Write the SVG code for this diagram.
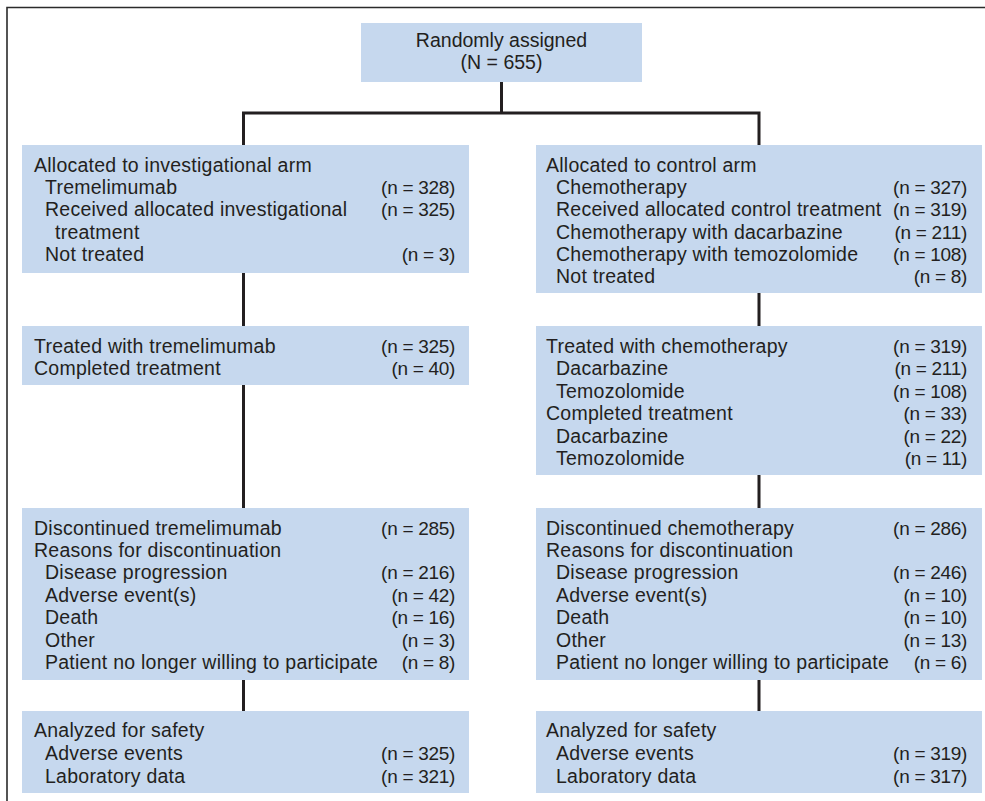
<svg xmlns="http://www.w3.org/2000/svg" width="985" height="801" viewBox="0 0 985 801">
<style>
.bg{fill:#ffffff}
.box{fill:#c6d8ee}
.frame{fill:none;stroke:#2b2b2b;stroke-width:1.6}
.ln{fill:none;stroke:#231f20;stroke-width:3}
text{font-family:"Liberation Sans",Arial,sans-serif;font-size:19.5px;fill:#231f20;letter-spacing:0.25px}
.n{text-anchor:end;font-size:19px;letter-spacing:-0.3px}
.c{text-anchor:middle;letter-spacing:0}
</style>
<rect class="bg" x="0" y="0" width="985" height="801"/>
<path class="frame" d="M7,801 V7.5 H985"/>
<g id="connectors">
<path class="ln" d="M501.5,81 V113 M243.5,113 H759.5 M243.5,111.5 V711 M759,111.5 V711"/>
</g>
<g id="randomized">
<rect class="box" x="361" y="23" width="281" height="59"/>
<text class="c" x="501.5" y="47">Randomly assigned</text>
<text class="c" x="501.5" y="69">(N = 655)</text>
</g>
<g id="alloc-invest">
<rect class="box" x="22" y="145" width="447" height="128"/>
<text x="34" y="172">Allocated to investigational arm</text>
<text x="45" y="194">Tremelimumab</text><text class="n" x="455" y="194">(n = 328)</text>
<text x="45" y="216">Received allocated investigational</text><text class="n" x="455" y="216">(n = 325)</text>
<text x="55" y="239">treatment</text>
<text x="45" y="261">Not treated</text><text class="n" x="455" y="261">(n = 3)</text>
</g>
<g id="alloc-control">
<rect class="box" x="536" y="145" width="446" height="148"/>
<text x="546" y="172">Allocated to control arm</text>
<text x="556" y="194">Chemotherapy</text><text class="n" x="967" y="194">(n = 327)</text>
<text x="556" y="216">Received allocated control treatment</text><text class="n" x="967" y="216">(n = 319)</text>
<text x="556" y="239">Chemotherapy with dacarbazine</text><text class="n" x="967" y="239">(n = 211)</text>
<text x="556" y="261">Chemotherapy with temozolomide</text><text class="n" x="967" y="261">(n = 108)</text>
<text x="556" y="283">Not treated</text><text class="n" x="967" y="283">(n = 8)</text>
</g>
<g id="treated-invest">
<rect class="box" x="22" y="326" width="447" height="59"/>
<text x="34" y="353">Treated with tremelimumab</text><text class="n" x="455" y="353">(n = 325)</text>
<text x="34" y="375">Completed treatment</text><text class="n" x="455" y="375">(n = 40)</text>
</g>
<g id="treated-control">
<rect class="box" x="536" y="326" width="446" height="149"/>
<text x="546" y="353">Treated with chemotherapy</text><text class="n" x="967" y="353">(n = 319)</text>
<text x="556" y="375">Dacarbazine</text><text class="n" x="967" y="375">(n = 211)</text>
<text x="556" y="398">Temozolomide</text><text class="n" x="967" y="398">(n = 108)</text>
<text x="546" y="420">Completed treatment</text><text class="n" x="967" y="420">(n = 33)</text>
<text x="556" y="443">Dacarbazine</text><text class="n" x="967" y="443">(n = 22)</text>
<text x="556" y="465">Temozolomide</text><text class="n" x="967" y="465">(n = 11)</text>
</g>
<g id="disc-invest">
<rect class="box" x="22" y="508" width="447" height="172"/>
<text x="34" y="535">Discontinued tremelimumab</text><text class="n" x="455" y="535">(n = 285)</text>
<text x="34" y="557">Reasons for discontinuation</text>
<text x="45" y="579">Disease progression</text><text class="n" x="455" y="579">(n = 216)</text>
<text x="45" y="602">Adverse event(s)</text><text class="n" x="455" y="602">(n = 42)</text>
<text x="45" y="624">Death</text><text class="n" x="455" y="624">(n = 16)</text>
<text x="45" y="647">Other</text><text class="n" x="455" y="647">(n = 3)</text>
<text x="45" y="669">Patient no longer willing to participate</text><text class="n" x="455" y="669">(n = 8)</text>
</g>
<g id="disc-control">
<rect class="box" x="536" y="508" width="446" height="172"/>
<text x="546" y="535">Discontinued chemotherapy</text><text class="n" x="967" y="535">(n = 286)</text>
<text x="546" y="557">Reasons for discontinuation</text>
<text x="556" y="579">Disease progression</text><text class="n" x="967" y="579">(n = 246)</text>
<text x="556" y="602">Adverse event(s)</text><text class="n" x="967" y="602">(n = 10)</text>
<text x="556" y="624">Death</text><text class="n" x="967" y="624">(n = 10)</text>
<text x="556" y="647">Other</text><text class="n" x="967" y="647">(n = 13)</text>
<text x="556" y="669">Patient no longer willing to participate</text><text class="n" x="967" y="669">(n = 6)</text>
</g>
<g id="safety-invest">
<rect class="box" x="22" y="711" width="447" height="82"/>
<text x="34" y="737">Analyzed for safety</text>
<text x="45" y="760">Adverse events</text><text class="n" x="455" y="760">(n = 325)</text>
<text x="45" y="783">Laboratory data</text><text class="n" x="455" y="783">(n = 321)</text>
</g>
<g id="safety-control">
<rect class="box" x="536" y="711" width="446" height="82"/>
<text x="546" y="737">Analyzed for safety</text>
<text x="556" y="760">Adverse events</text><text class="n" x="967" y="760">(n = 319)</text>
<text x="556" y="783">Laboratory data</text><text class="n" x="967" y="783">(n = 317)</text>
</g>
</svg>
